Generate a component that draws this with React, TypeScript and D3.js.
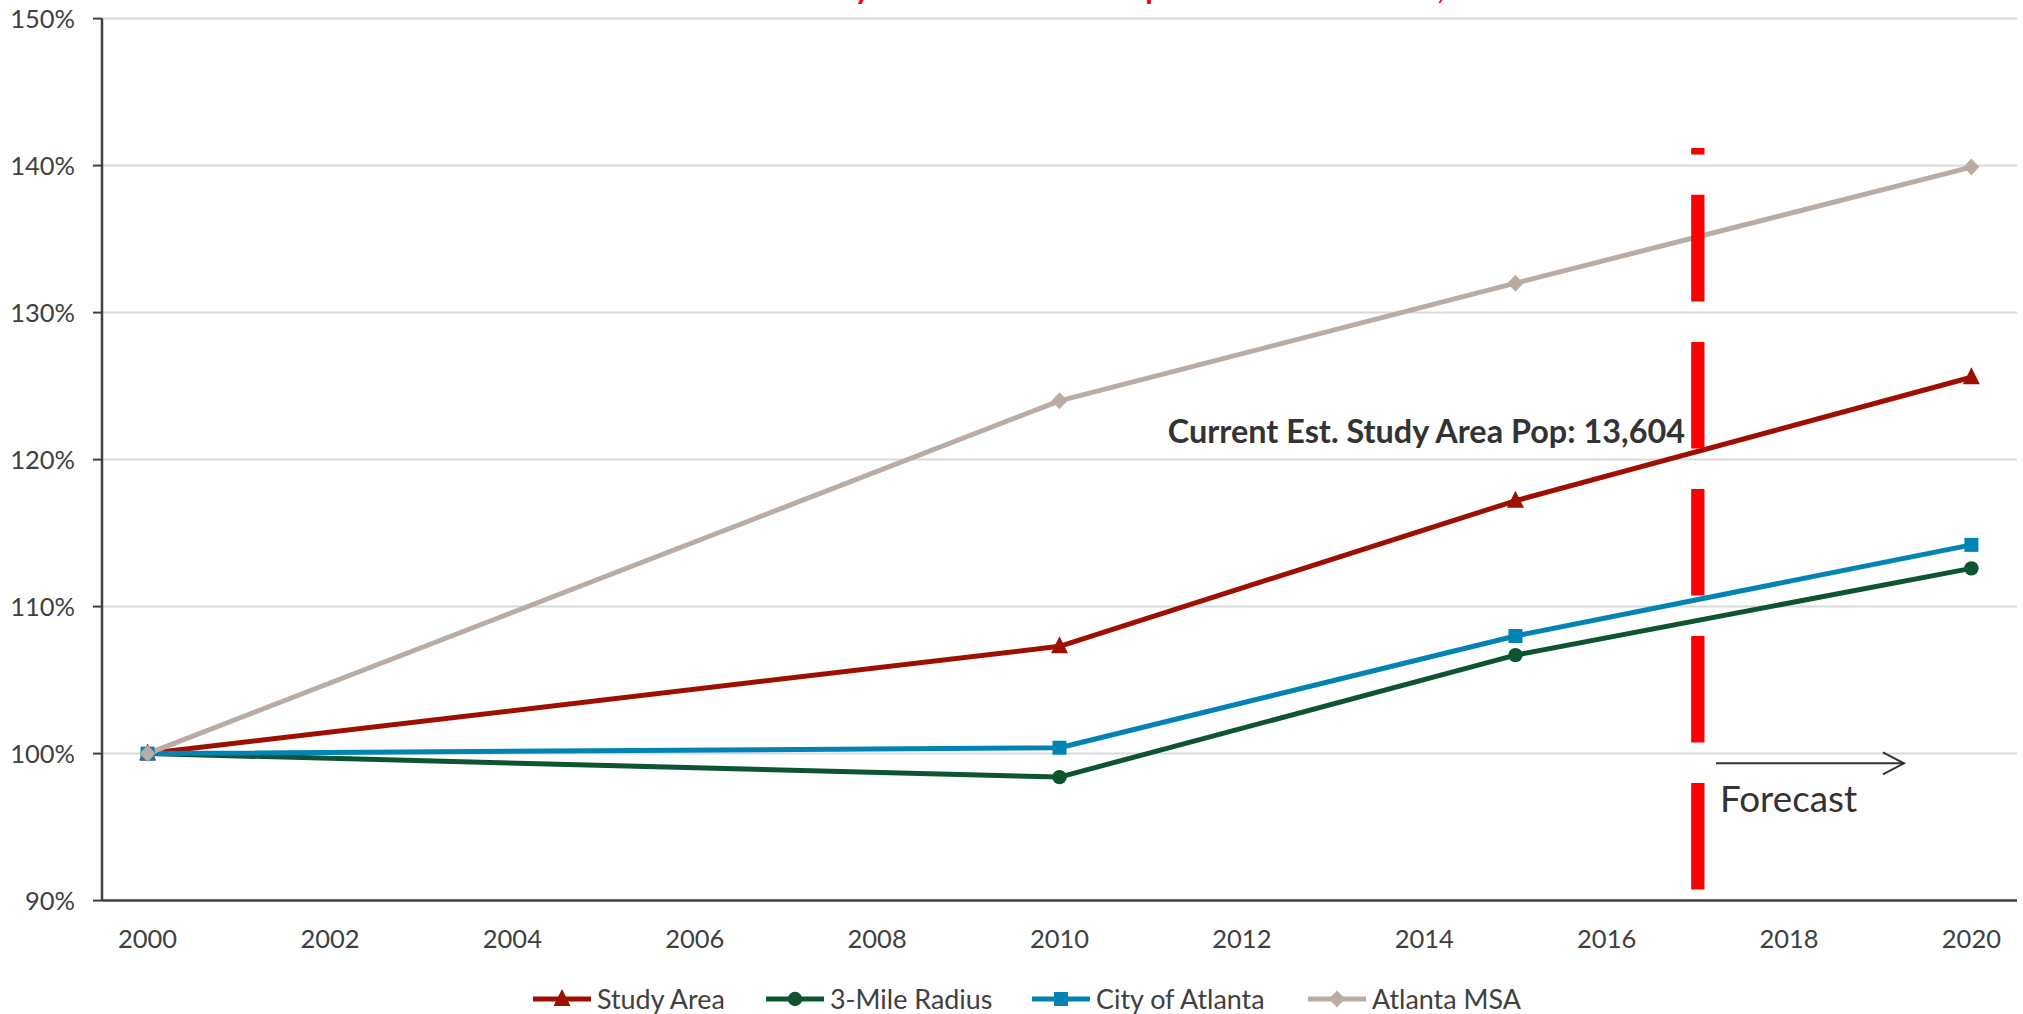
import React from "react";
import * as d3 from "d3";

const years = [2000, 2010, 2015, 2020];
const studyArea = [100, 107.3, 117.2, 125.6];
const threeMileRadius = [100, 98.4, 106.7, 112.6];
const cityOfAtlanta = [100, 100.4, 108.0, 114.2];
const atlantaMSA = [100, 124.0, 132.0, 139.9];

const seriesNames = ["Study Area", "3-Mile Radius", "City of Atlanta", "Atlanta MSA"];
const seriesColors = ["#9e0f02", "#0c5530", "#0183b3", "#baaca3"];
const seriesMarkers = ["triangle", "circle", "square", "diamond"];

const xTicks = [2000, 2002, 2004, 2006, 2008, 2010, 2012, 2014, 2016, 2018, 2020];
const yTicks = [90, 100, 110, 120, 130, 140, 150];

const forecastYear = 2017;
const forecastLineRange = [90.75, 141.2];
const forecastArrow = { from: 2017.2, to: 2019.26, value: 99.34 };
const annotationText = "Current Est. Study Area Pop: 13,604";
const titleText = "Study Area and Atlanta Population Growth Rate, 2000 - 2020";

const W = 2023;
const H = 1014;
const FONT = "Lato, 'Noto Sans', sans-serif";

function Marker({ type, cx, cy, color }: { type: string; cx: number; cy: number; color: string }) {
  if (type === "triangle") {
    return <path d={`M${cx},${cy - 10}L${cx + 8.5},${cy + 7}L${cx - 8.5},${cy + 7}Z`} fill={color} />;
  }
  if (type === "circle") {
    return <circle cx={cx} cy={cy} r={7.2} fill={color} />;
  }
  if (type === "square") {
    return <rect x={cx - 7} y={cy - 7} width={14} height={14} fill={color} />;
  }
  return <path d={`M${cx},${cy - 8.5}L${cx + 8},${cy}L${cx},${cy + 8.5}L${cx - 8},${cy}Z`} fill={color} />;
}

export default function App() {
  const x = d3.scaleLinear().domain([1999.5, 2020.5]).range([102, 2017]);
  const y = d3.scaleLinear().domain([90, 150]).range([900.6, 18.6]);
  const allSeries = [studyArea, threeMileRadius, cityOfAtlanta, atlantaMSA];
  const line = d3
    .line<[number, number]>()
    .x((d) => x(d[0]))
    .y((d) => y(d[1]));

  const axisColor = "#404040";
  const textColor = "#404040";
  const legendX = [533, 766, 1032, 1308];
  const legendY = 999;

  const fx = x(forecastYear);
  const ax1 = x(forecastArrow.from);
  const ax2 = x(forecastArrow.to);
  const ay = y(forecastArrow.value);

  return (
    <svg
      width={W}
      height={H}
      style={{ position: "absolute", left: 0, top: 0, display: "block", background: "#fff" }}
      fontFamily={FONT}
    >
      <rect x={0} y={0} width={W} height={H} fill="#fff" />
      {/* title, cut off at the top edge as in the reference */}
      <text x={1206} y={-1} textAnchor="middle" fontSize={30.5} fontWeight={700} fill="#ff0000">
        {titleText}
      </text>

      {/* gridlines */}
      {yTicks
        .filter((t) => t > 90)
        .map((t) => (
          <line key={t} x1={102} x2={2017} y1={y(t)} y2={y(t)} stroke="#d9d9d9" strokeWidth={2} />
        ))}

      {/* axes */}
      <line x1={102} x2={2017} y1={y(90)} y2={y(90)} stroke={axisColor} strokeWidth={2.5} />
      <line x1={102} x2={102} y1={y(150)} y2={y(90)} stroke={axisColor} strokeWidth={2.5} />
      {yTicks.map((t) => (
        <g key={t}>
          <line x1={93} x2={102} y1={y(t)} y2={y(t)} stroke={axisColor} strokeWidth={2} />
          <text x={75} y={y(t)} dy="0.36em" textAnchor="end" fontSize={25.5} fill={textColor}>
            {`${t}%`}
          </text>
        </g>
      ))}
      {xTicks.map((t) => (
        <text key={t} x={x(t)} y={948} textAnchor="middle" fontSize={25.5} fill={textColor}>
          {t}
        </text>
      ))}

      {/* series lines */}
      {allSeries.map((s, i) => (
        <path
          key={seriesNames[i]}
          d={line(years.map((yr, j) => [yr, s[j]]) as [number, number][]) || ""}
          fill="none"
          stroke={seriesColors[i]}
          strokeWidth={5}
          strokeLinejoin="round"
        />
      ))}
      {allSeries.map((s, i) =>
        years.map((yr, j) => (
          <Marker key={`${i}-${j}`} type={seriesMarkers[i]} cx={x(yr)} cy={y(s[j])} color={seriesColors[i]} />
        ))
      )}

      {/* forecast divider */}
      <path
        d={`M${fx},${y(forecastLineRange[0])}L${fx},${y(forecastLineRange[1])}`}
        stroke="#ff0000"
        strokeWidth={13.3}
        strokeDasharray="106.7 40.3"
        fill="none"
      />

      {/* annotation */}
      <text x={1685} y={443} textAnchor="end" fontSize={32.4} fontWeight={700} fill="#333333">
        {annotationText}
      </text>

      {/* forecast arrow */}
      <line x1={ax1} x2={ax2} y1={ay} y2={ay} stroke="#333333" strokeWidth={2} />
      <path
        d={`M${ax2 - 21},${ay - 11}L${ax2},${ay}L${ax2 - 21},${ay + 11}`}
        stroke="#333333"
        strokeWidth={2}
        fill="none"
      />
      <text x={1720} y={811.7} fontSize={36.8} fill="#333333">
        Forecast
      </text>

      {/* legend */}
      {seriesNames.map((name, i) => (
        <g key={name}>
          <line
            x1={legendX[i]}
            x2={legendX[i] + 58}
            y1={legendY}
            y2={legendY}
            stroke={seriesColors[i]}
            strokeWidth={5}
          />
          <Marker type={seriesMarkers[i]} cx={legendX[i] + 29} cy={legendY} color={seriesColors[i]} />
          <text x={legendX[i] + 64} y={legendY} dy="0.36em" fontSize={26.9} fill={textColor}>
            {name}
          </text>
        </g>
      ))}
    </svg>
  );
}
